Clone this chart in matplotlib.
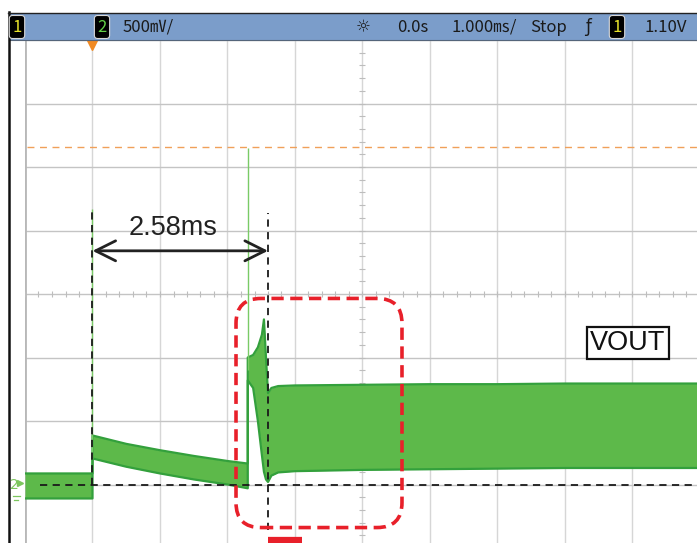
"""Scope capture of VOUT at power-up: 1 ms/div, 500 mV/div, with 2.58 ms delay marker."""

import matplotlib
matplotlib.use("Agg")
import matplotlib.pyplot as plt
from matplotlib.patches import Rectangle, FancyBboxPatch
from matplotlib.lines import Line2D

# Screen scale (scope settings)
time_div = 1.0   # ms per division
volt_div = 0.5   # V per division
t_range = (-1.0, 9.0)
v_range = (-0.5, 3.5)

# Envelope of the green trace (ms, V)
env_t = [-1.0, 0.0, 0.0, 0.5, 1.0, 1.5, 2.0, 2.30, 2.30, 2.38, 2.45, 2.51, 2.54,
         2.57, 2.60, 2.65, 2.75, 3.0, 4.0, 5.0, 6.0, 7.0, 8.0, 9.0]
env_hi = [0.087, 0.087, 0.386, 0.32, 0.27, 0.225, 0.185, 0.165, 1.00, 1.02, 1.08,
          1.18, 1.30, 1.00, 0.72, 0.76, 0.775, 0.78, 0.785, 0.79, 0.79, 0.795, 0.795, 0.795]
env_lo = [-0.11, -0.11, 0.205, 0.14, 0.087, 0.04, 0.0, -0.03, 0.82, 0.76, 0.50,
          0.23, 0.10, 0.04, 0.02, 0.07, 0.095, 0.105, 0.115, 0.12, 0.125, 0.13, 0.13, 0.13]

# Thin glitches at the two edges
spike_t = [0.0, 2.30]
spike_base = [0.2, 0.9]
spike_top = [2.17, 2.65]

trigger_level = 2.66     # orange dashed line
delay_start = 0.0        # ms
delay_end = 2.60         # ms
delay_label = "2.58ms"
trace_label = "VOUT"

# Header readouts
ch_scale = "500㎷/"
t_delay = "0.0s"
t_scale = "1.000㎳/"
run_state = "Stop"
trig_value = "1.10V"

W, H = 697, 543
fig = plt.figure(figsize=(W / 100, H / 100), dpi=100)


def fx(px):
    return px / W


def fy(py):
    return 1 - py / H


# Screen axes: left edge at x=25px, 67.5px per div; top at y=40px, 63.5px per div
ax = fig.add_axes([fx(25), fy(548), 675 / W, 508 / H])
ax.set_xlim(*t_range)
ax.set_ylim(*v_range)
ax.axis("off")

# grid
for k in range(11):
    t = t_range[0] + k * time_div
    ax.axvline(t, color="#D6D6D6", lw=1.0, zorder=1)
for k in range(9):
    v = v_range[0] + k * volt_div
    ax.axhline(v, color="#C4C4C4", lw=1.0, zorder=1)
ax.axvline(t_range[0], color="#B8B8B8", lw=2.0, zorder=1)

# minor ticks on the centre axes
tc, vc = 4.0, 1.5
ticks_t = [t_range[0] + 0.2 * k for k in range(51)]
ticks_v = [v_range[0] + 0.1 * k for k in range(41)]
ax.plot(ticks_t, [vc] * len(ticks_t), ls="none", marker="|", ms=5, mew=0.8,
        color="#BDBDBD", zorder=1)
ax.plot([tc] * len(ticks_v), ticks_v, ls="none", marker="_", ms=5, mew=0.8,
        color="#BDBDBD", zorder=1)

# trigger level
ax.plot([-0.97, 9.0], [trigger_level] * 2, color="#F0A05A", lw=1.0,
        ls=(0, (5, 4)), zorder=2)

# trace
ax.fill_between(env_t, env_lo, env_hi, color="#5DB94A", lw=0, zorder=3)
ax.plot(env_t, env_hi, color="#33A03C", lw=1.6, zorder=3)
ax.plot(env_t, env_lo, color="#33A03C", lw=1.6, zorder=3)
ax.vlines(spike_t, spike_base, spike_top, color="#7ACB66", lw=1.0, zorder=3)

# annotations: dashed markers
dash = (0, (4, 3))
ax.plot([delay_start, delay_start], [0.0, 2.16], color="#1A1A1A", lw=1.3, ls=dash, zorder=5)
ax.plot([delay_end, delay_end], [-0.36, 2.14], color="#1A1A1A", lw=1.3, ls=dash, zorder=5)
ax.plot([-0.78, 9.0], [0.0, 0.0], color="#1A1A1A", lw=1.3, ls=dash, zorder=5)

ax.annotate("", xy=(delay_start, 1.84), xytext=(delay_end, 1.84),
            arrowprops=dict(arrowstyle="<->,head_length=0.9,head_width=0.45",
                            mutation_scale=16, lw=2, color="#222222",
                            shrinkA=0, shrinkB=0), zorder=6)
ax.text((delay_start + delay_end) / 2 - 0.1, 1.92, delay_label, fontsize=19.5,
        family="Liberation Sans", color="#222222", ha="center", va="bottom", zorder=6)

ax.text(7.93, 1.114, trace_label, fontsize=19.5, family="Liberation Sans",
        color="#111111", ha="center", va="center", zorder=6,
        bbox=dict(boxstyle="square,pad=0.12", fc="white", ec="#111111", lw=1.6))

# red highlight box (radius corrected for the unequal axis scales)
red_box = FancyBboxPatch((2.126, -0.339), 4.585 - 2.126, 1.465 + 0.339,
                         boxstyle="round,pad=0,rounding_size=0.37",
                         mutation_aspect=67.5 / 127, fill=False,
                         ec="#E8202A", lw=2.6, ls=(0, (3.4, 1.8)), zorder=7)
ax.add_patch(red_box)
ax.plot([delay_end, 3.1], [-0.44, -0.44], color="#E8202A", lw=4.5,
        solid_capstyle="butt", zorder=7)

# trigger position marker and channel-2 ground marker
ax.plot([0.0], [3.47], marker="v", ms=8, color="#F08A24", clip_on=False, zorder=8)
ax.text(-1.16, 0.0, "2", fontsize=10, color="#7CC65E", ha="center", va="center",
        clip_on=False)
ax.plot([-1.07], [0.01], marker=">", ms=5, color="#7CC65E", clip_on=False)
ax.plot([-1.18, -1.08], [-0.09, -0.09], color="#7CC65E", lw=0.9, clip_on=False)
ax.plot([-1.16, -1.10], [-0.12, -0.12], color="#7CC65E", lw=0.9, clip_on=False)

# header bar
fig.patches.append(Rectangle((fx(9), fy(40)), (W - 9) / W, 27 / H,
                             transform=fig.transFigure, fc="#7B9DCA", ec="none"))
fig.lines.append(Line2D([fx(9), 1], [fy(40), fy(40)], transform=fig.transFigure,
                        color="#55657A", lw=0.8))
# frame
fig.lines.append(Line2D([fx(8.5), fx(8.5)], [fy(12), 0], transform=fig.transFigure,
                        color="#111111", lw=1.8))
fig.lines.append(Line2D([fx(8), 1], [fy(12.5), fy(12.5)], transform=fig.transFigure,
                        color="#222222", lw=1.0))

hdr_font = ["DejaVu Sans Condensed", "Liberation Sans Narrow", "Noto Sans CJK JP",
            "DejaVu Sans"]
yh = fy(27)


def chan_box(x, label, colour):
    fig.text(fx(x), yh, label, fontsize=12, family=hdr_font, color=colour,
             ha="center", va="center",
             bbox=dict(boxstyle="round,pad=0.18,rounding_size=0.2", fc="black",
                       ec="#D8D8D8", lw=0.8))


def readout(x, label, ha="left", family=hdr_font):
    fig.text(fx(x), yh, label, fontsize=12, family=family, color="#1A1A1A",
             ha=ha, va="center")


chan_box(17, "1", "#E6E22A")
chan_box(102, "2", "#63D046")
readout(123, ch_scale)
readout(363, "☼", ha="center", family="DejaVu Sans")
readout(397, t_delay)
readout(452, t_scale)
readout(530, run_state)
readout(588, "ƒ", ha="center", family="DejaVu Sans")
chan_box(617, "1", "#E6E22A")
readout(644, trig_value)

fig.savefig("out.png", dpi=100, facecolor="white")
